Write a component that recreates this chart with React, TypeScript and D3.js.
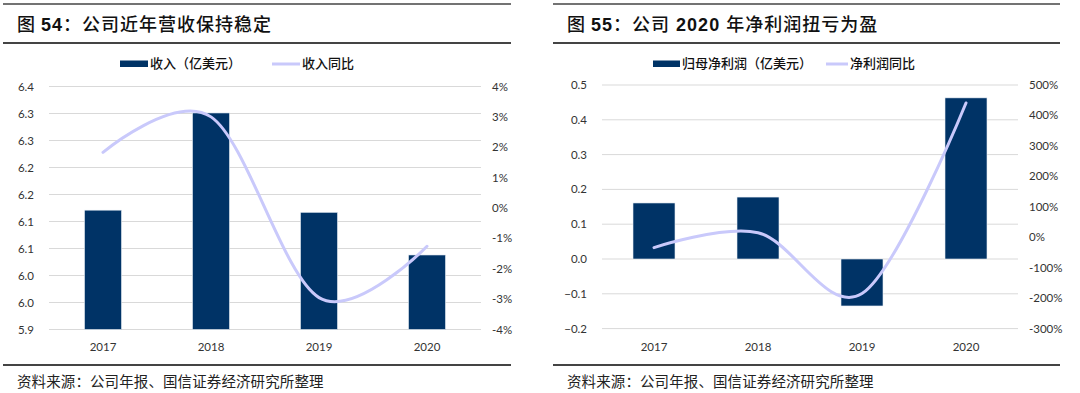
import * as d3 from "d3";
import { useEffect, useRef } from "react";

const years = ["2017", "2018", "2019", "2020"];

// 图54 营收
const revenue = [6.141, 6.321, 6.137, 6.058];
const revenueYoY = [1.83, 3.0, -2.95, -1.26];
const revenueTicks = [5.92, 5.97, 6.02, 6.07, 6.12, 6.17, 6.22, 6.27, 6.32, 6.37];
const revenueTickLabels = ["5.9", "6.0", "6.0", "6.1", "6.1", "6.2", "6.2", "6.3", "6.3", "6.4"];
const revenueYoYTicks = [-4, -3, -2, -1, 0, 1, 2, 3, 4];

// 图55 净利润
const profit = [0.161, 0.178, -0.135, 0.463];
const profitYoY = [-34, 15, -185, 441];
const profitTicks = [-0.2, -0.1, 0, 0.1, 0.2, 0.3, 0.4, 0.5];
const profitYoYTicks = [-300, -200, -100, 0, 100, 200, 300, 400, 500];

const BAR = "#003366";
const LINE = "#c9c9fb";
const GRID = "#d9d9d9";
const RULE = "#444";
const NUM_FONT = "Lato, 'Open Sans', sans-serif";
const CJK_FONT = "'Noto Sans CJK SC', sans-serif";

type Panel = {
  left: number;
  right: number;
  plotX: [number, number];
  plotY: [number, number];
  yDomain: [number, number];
  y2Domain: [number, number];
  ticks: number[];
  tickLabels: string[];
  y2Ticks: number[];
  bars: number[];
  line: number[];
  barShare: number;
  leftLabelX: number;
  rightLabelX: number;
  titleNum: string;
  titleText: string[];
  legendBar: string;
  legendLine: string;
  legendX: [number, number, number, number];
};

function drawPanel(svg: d3.Selection<SVGSVGElement, unknown, null, undefined>, p: Panel) {
  const g = svg.append("g");
  const [top, bottom] = p.plotY;

  // rules
  g.append("line").attr("x1", p.left).attr("x2", p.right).attr("y1", 4).attr("y2", 4)
    .attr("stroke", RULE).attr("stroke-width", 1.3);
  g.append("line").attr("x1", p.left).attr("x2", p.right).attr("y1", 43).attr("y2", 43)
    .attr("stroke", RULE).attr("stroke-width", 2);
  g.append("line").attr("x1", p.left).attr("x2", p.right).attr("y1", 365).attr("y2", 365)
    .attr("stroke", RULE).attr("stroke-width", 2);

  // title
  const title = g.append("text").attr("x", p.left + 14).attr("y", 31)
    .attr("font-size", 18).attr("fill", "#111").attr("font-family", CJK_FONT).attr("font-weight", 500)
    .attr("letter-spacing", 1);
  title.append("tspan").text("图 ");
  title.append("tspan").attr("font-family", "'Liberation Sans', Arial, sans-serif").attr("font-weight", "bold").text(p.titleNum);
  p.titleText.forEach((t) => {
    const isNum = /^\s?\d+\s?$/.test(t);
    title.append("tspan")
      .attr("font-family", isNum ? "'Liberation Sans', Arial, sans-serif" : CJK_FONT)
      .attr("font-weight", isNum ? "bold" : 500)
      .attr("xml:space", "preserve")
      .text(t);
  });

  // legend
  const [bx, btx, lx, ltx] = p.legendX;
  g.append("rect").attr("x", bx).attr("y", 60.5).attr("width", btx - bx - 2).attr("height", 6.5).attr("fill", BAR);
  g.append("text").attr("x", btx).attr("y", 68).attr("font-size", 13).attr("font-family", CJK_FONT)
    .attr("font-weight", 500).attr("fill", "#111").text(p.legendBar);
  g.append("line").attr("x1", lx).attr("x2", ltx - 2).attr("y1", 64).attr("y2", 64)
    .attr("stroke", LINE).attr("stroke-width", 3);
  g.append("text").attr("x", ltx).attr("y", 68).attr("font-size", 13).attr("font-family", CJK_FONT)
    .attr("font-weight", 500).attr("fill", "#111").text(p.legendLine);

  // scales
  const pad = 1 - p.barShare;
  const x = d3.scaleBand<string>().domain(years).range(p.plotX).paddingInner(pad).paddingOuter(pad / 2);
  const y = d3.scaleLinear().domain(p.yDomain).range([bottom, top]);
  const y2 = d3.scaleLinear().domain(p.y2Domain).range([bottom, top]);

  // grid + axis labels
  g.append("g").selectAll("line").data(p.ticks).join("line")
    .attr("x1", p.plotX[0]).attr("x2", p.plotX[1])
    .attr("y1", (d) => y(d)).attr("y2", (d) => y(d))
    .attr("stroke", GRID).attr("stroke-width", 1);
  g.append("g").selectAll("text").data(p.ticks).join("text")
    .attr("x", p.leftLabelX).attr("y", (d) => y(d)).attr("dy", "0.35em")
    .attr("text-anchor", "end").attr("font-size", 11.5).attr("font-family", NUM_FONT).attr("fill", "#333")
    .text((_, i) => p.tickLabels[i]);
  g.append("g").selectAll("text").data(p.y2Ticks).join("text")
    .attr("x", p.rightLabelX).attr("y", (d) => y2(d)).attr("dy", "0.35em")
    .attr("text-anchor", "start").attr("font-size", 11.5).attr("font-family", NUM_FONT).attr("fill", "#333")
    .text((d) => `${d}%`);

  // bars
  const base = p.yDomain[0] > 0 ? p.yDomain[0] : 0;
  g.append("g").selectAll("rect").data(p.bars).join("rect")
    .attr("x", (_, i) => x(years[i]) ?? 0)
    .attr("width", x.bandwidth())
    .attr("y", (d) => Math.min(y(d), y(base)))
    .attr("height", (d) => Math.abs(y(d) - y(base)))
    .attr("fill", BAR).attr("stroke", "#e8eef6").attr("stroke-width", 0.6);

  // smoothed line
  const lineGen = d3.line<number>()
    .x((_, i) => (x(years[i]) ?? 0) + x.bandwidth() / 2)
    .y((d) => y2(d))
    .curve(d3.curveCatmullRom.alpha(0));
  g.append("path").datum(p.line).attr("d", lineGen)
    .attr("fill", "none").attr("stroke", LINE).attr("stroke-width", 3).attr("stroke-linecap", "round");

  // x labels
  g.append("g").selectAll("text").data(years).join("text")
    .attr("x", (d) => (x(d) ?? 0) + x.bandwidth() / 2).attr("y", 351)
    .attr("text-anchor", "middle").attr("font-size", 11.5).attr("font-family", NUM_FONT).attr("fill", "#333")
    .text((d) => d);

  // source
  g.append("text").attr("x", p.left + 14).attr("y", 387).attr("font-size", 14.5)
    .attr("font-family", CJK_FONT).attr("fill", "#222").attr("letter-spacing", 0.1)
    .text("资料来源：公司年报、国信证券经济研究所整理");
}

export default function App() {
  const ref = useRef<SVGSVGElement>(null);

  useEffect(() => {
    if (!ref.current) return;
    const svg = d3.select(ref.current);
    svg.selectAll("*").remove();
    svg.append("rect").attr("width", 1080).attr("height", 393).attr("fill", "#fff");

    drawPanel(svg, {
      left: 3,
      right: 511,
      plotX: [49, 481],
      plotY: [86.5, 329.5],
      yDomain: [5.92, 6.37],
      y2Domain: [-4, 4],
      ticks: revenueTicks,
      tickLabels: revenueTickLabels,
      y2Ticks: revenueYoYTicks,
      bars: revenue,
      line: revenueYoY,
      barShare: 37 / 108,
      leftLabelX: 34,
      rightLabelX: 492,
      titleNum: "54",
      titleText: ["：公司近年营收保持稳定"],
      legendBar: "收入（亿美元）",
      legendLine: "收入同比",
      legendX: [120, 150, 272, 302],
    });

    drawPanel(svg, {
      left: 553,
      right: 1060,
      plotX: [602, 1018],
      plotY: [85, 328.6],
      yDomain: [-0.2, 0.5],
      y2Domain: [-300, 500],
      ticks: profitTicks,
      tickLabels: profitTicks.map((d) => d3.format(".1f")(d)),
      y2Ticks: profitYoYTicks,
      bars: profit,
      line: profitYoY,
      barShare: 42 / 104,
      leftLabelX: 587,
      rightLabelX: 1029,
      titleNum: "55",
      titleText: ["：公司", " 2020 ", "年净利润扭亏为盈"],
      legendBar: "归母净利润（亿美元）",
      legendLine: "净利润同比",
      legendX: [653, 682, 826, 850],
    });
  }, []);

  return (
    <svg
      ref={ref}
      width={1080}
      height={393}
      style={{ position: "absolute", left: 0, top: 0 }}
      role="img"
      aria-label="公司营收与净利润"
    />
  );
}
